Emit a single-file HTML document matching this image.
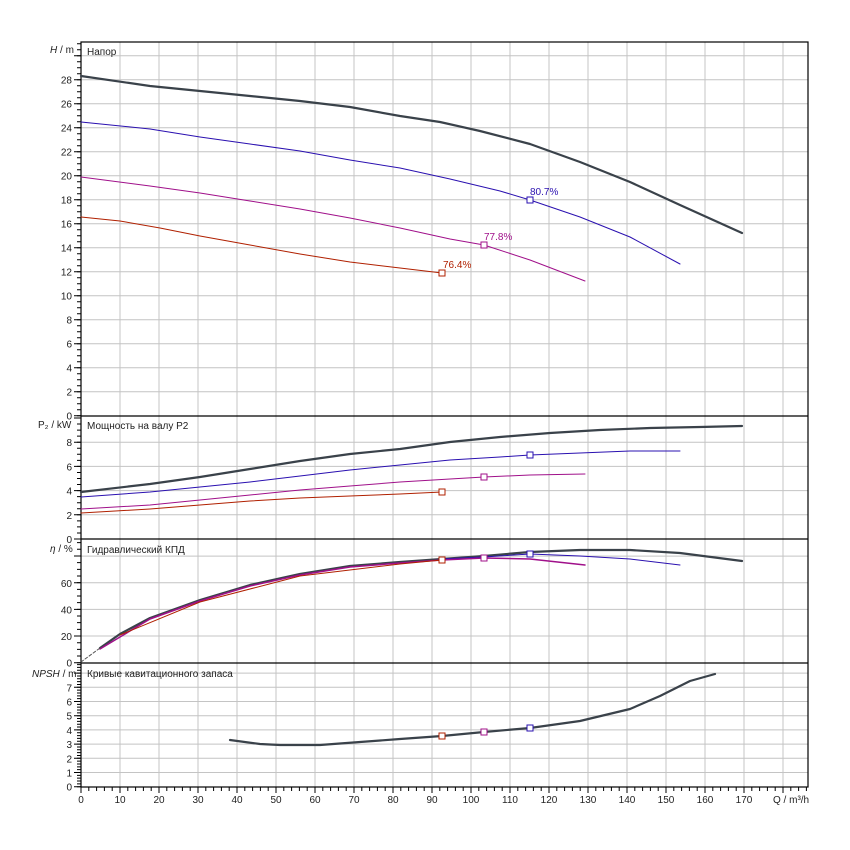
<!DOCTYPE html>
<html><head><meta charset="utf-8"><style>body{margin:0;background:#fff}svg{display:block}text{font-family:"Liberation Sans",sans-serif;font-size:10px;fill:#222}</style></head><body>
<svg width="850" height="850" viewBox="0 0 850 850" xmlns="http://www.w3.org/2000/svg">
<g stroke="#c4c4c4" stroke-width="1" fill="none">
<path d="M120 42V787M159 42V787M198 42V787M237 42V787M276 42V787M315 42V787M354 42V787M393 42V787M432 42V787M471 42V787M510 42V787M549 42V787M588 42V787M627 42V787M666 42V787M705 42V787M744 42V787M783 42V787"/>
<path d="M81 391.7H808M81 367.7H808M81 343.7H808M81 319.7H808M81 295.7H808M81 271.7H808M81 247.7H808M81 223.7H808M81 199.7H808M81 175.7H808M81 151.7H808M81 127.7H808M81 103.7H808M81 79.7H808M81 55.7H808"/>
<path d="M81 514.8H808M81 490.6H808M81 466.4H808M81 442.2H808"/>
<path d="M81 636H808M81 609.4H808M81 582.8H808M81 556.1H808"/>
<path d="M81 772.5H808M81 758.3H808M81 744.1H808M81 729.9H808M81 715.7H808M81 701.5H808M81 687.3H808M81 673.1H808"/>
</g>
<g stroke="#000" fill="none">
<line x1="80.5" y1="789" x2="808" y2="789" stroke-width="4" stroke-dasharray="1 6.8"/>
<line x1="80.5" y1="790" x2="808" y2="790" stroke-width="6" stroke-dasharray="1 38"/>
<line x1="79" y1="416.2" x2="79" y2="42" stroke-width="4" stroke-dasharray="1 5"/>
<line x1="77.5" y1="416.2" x2="77.5" y2="42" stroke-width="7" stroke-dasharray="1 23"/>
<line x1="79" y1="539.5" x2="79" y2="416" stroke-width="4" stroke-dasharray="1 5.05"/>
<line x1="77.5" y1="539.5" x2="77.5" y2="416" stroke-width="7" stroke-dasharray="1 23.2"/>
<line x1="79" y1="663.2" x2="79" y2="539" stroke-width="4" stroke-dasharray="1 5.67"/>
<line x1="77.5" y1="663.2" x2="77.5" y2="539" stroke-width="7" stroke-dasharray="1 25.67"/>
<line x1="79" y1="787.2" x2="79" y2="663" stroke-width="4" stroke-dasharray="1 1.84"/>
<line x1="77.5" y1="787.2" x2="77.5" y2="663" stroke-width="7" stroke-dasharray="1 13.2"/>
</g>
<g fill="none" stroke="#000" stroke-width="1.2">
<rect x="81" y="42" width="727" height="745"/>
<line x1="81" y1="416" x2="808" y2="416"/>
<line x1="81" y1="539" x2="808" y2="539"/>
<line x1="81" y1="663" x2="808" y2="663"/>
</g>
<g text-anchor="end">
<text x="72" y="419.7">0</text><text x="72" y="395.7">2</text><text x="72" y="371.7">4</text><text x="72" y="347.7">6</text><text x="72" y="323.7">8</text><text x="72" y="299.7">10</text><text x="72" y="275.7">12</text><text x="72" y="251.7">14</text><text x="72" y="227.7">16</text><text x="72" y="203.7">18</text><text x="72" y="179.7">20</text><text x="72" y="155.7">22</text><text x="72" y="131.7">24</text><text x="72" y="107.7">26</text><text x="72" y="83.7">28</text>
<text x="72" y="543">0</text><text x="72" y="518.8">2</text><text x="72" y="494.6">4</text><text x="72" y="470.4">6</text><text x="72" y="446.2">8</text>
<text x="72" y="666.7">0</text><text x="72" y="640">20</text><text x="72" y="613.4">40</text><text x="72" y="586.8">60</text>
<text x="72" y="790.7">0</text><text x="72" y="776.5">1</text><text x="72" y="762.3">2</text><text x="72" y="748.1">3</text><text x="72" y="733.9">4</text><text x="72" y="719.7">5</text><text x="72" y="705.5">6</text><text x="72" y="691.3">7</text>
</g>
<g text-anchor="middle">
<text x="81" y="803">0</text><text x="120" y="803">10</text><text x="159" y="803">20</text><text x="198" y="803">30</text><text x="237" y="803">40</text><text x="276" y="803">50</text><text x="315" y="803">60</text><text x="354" y="803">70</text><text x="393" y="803">80</text><text x="432" y="803">90</text><text x="471" y="803">100</text><text x="510" y="803">110</text><text x="549" y="803">120</text><text x="588" y="803">130</text><text x="627" y="803">140</text><text x="666" y="803">150</text><text x="705" y="803">160</text><text x="744" y="803">170</text>
</g>
<text x="87" y="55">Напор</text>
<text x="87" y="429">Мощность на валу P2</text>
<text x="87" y="553">Гидравлический КПД</text>
<text x="87" y="677">Кривые кавитационного запаса</text>
<text x="50" y="53"><tspan font-style="italic">H</tspan> / m</text>
<text x="38" y="428">P₂ / kW</text>
<text x="50" y="552"><tspan font-style="italic">η</tspan> / %</text>
<text x="32" y="677"><tspan font-style="italic">NPSH</tspan> / m</text>
<text x="773" y="803">Q / m³/h</text>
<g fill="none" stroke-linejoin="round" stroke-linecap="round">
<polyline stroke="#3a424a" stroke-width="2.2" points="81,76 150,86 200,91 250,96 300,101 350,107 400,116 440,122 480,131 530,144 580,162 630,182 680,205 742,233"/>
<polyline stroke="#2a10b0" stroke-width="1" points="81,122 150,129 200,137 250,144 300,151 350,160 400,168 450,179 500,191 530,200 580,217 630,237 680,264"/>
<polyline stroke="#a0108a" stroke-width="1" points="81,177 150,186 200,193 250,201 300,209 350,218 400,228 450,239 484,245 530,260 585,281"/>
<polyline stroke="#b02000" stroke-width="1" points="81,217 120,221 160,228 200,236 250,245 300,254 350,262 400,268 442,273"/>
<polyline stroke="#3a424a" stroke-width="2.2" points="81,492 150,484 200,477 250,469 300,461 350,454 400,449 450,442 500,437 550,433 600,430 650,428 700,427 742,426"/>
<polyline stroke="#2a10b0" stroke-width="1" points="81,497 150,492 200,487 250,482 300,476 350,470 400,465 450,460 500,457 530,455 580,453 630,451 680,451"/>
<polyline stroke="#a0108a" stroke-width="1" points="81,509 150,505 200,500 250,495 300,490 350,486 400,482 450,479 484,477 530,475 585,474"/>
<polyline stroke="#b02000" stroke-width="1" points="81,513 150,509 200,505 250,501 300,498 350,496 400,494 442,492"/>
<polyline stroke="#3a424a" stroke-width="2.2" points="100,648 120,634 150,618 200,600 250,585 300,574 350,566 400,562 442,559 484,556 530,552 580,550 630,550 680,553 742,561"/>
<polyline stroke="#2a10b0" stroke-width="1" points="442,559 484,557 530,554 580,556 630,559 680,565"/>
<polyline stroke="#a0108a" stroke-width="1.5" points="100,649 150,619 200,601 250,586 300,575 350,567 400,563 442,560 484,558 530,559 585,565"/>
<polyline stroke="#b02000" stroke-width="1" points="120,635 200,602 300,576 400,564 442,560"/>
<polyline stroke="#555" stroke-width="1" stroke-dasharray="3,2" points="81,662 100,648"/>
<polyline stroke="#3a424a" stroke-width="2.2" points="230,740 260,744 280,745 320,745 360,742 400,739 442,736 484,732 530,728 580,721 630,709 660,696 690,681 715,674"/>
</g>
<g fill="#fff" stroke-width="1">
<rect x="527" y="197" width="6" height="6" stroke="#2a10b0"/>
<rect x="481" y="242" width="6" height="6" stroke="#a0108a"/>
<rect x="439" y="270" width="6" height="6" stroke="#b02000"/>
<rect x="527" y="452" width="6" height="6" stroke="#2a10b0"/>
<rect x="481" y="474" width="6" height="6" stroke="#a0108a"/>
<rect x="439" y="489" width="6" height="6" stroke="#b02000"/>
<rect x="527" y="551" width="6" height="6" stroke="#2a10b0"/>
<rect x="481" y="555" width="6" height="6" stroke="#a0108a"/>
<rect x="439" y="557" width="6" height="6" stroke="#b02000"/>
<rect x="527" y="725" width="6" height="6" stroke="#2a10b0"/>
<rect x="481" y="729" width="6" height="6" stroke="#a0108a"/>
<rect x="439" y="733" width="6" height="6" stroke="#b02000"/>
</g>
<text x="530" y="195" style="fill:#2a10b0">80.7%</text>
<text x="484" y="240" style="fill:#a0108a">77.8%</text>
<text x="443" y="268" style="fill:#b02000">76.4%</text>
</svg>
</body></html>
